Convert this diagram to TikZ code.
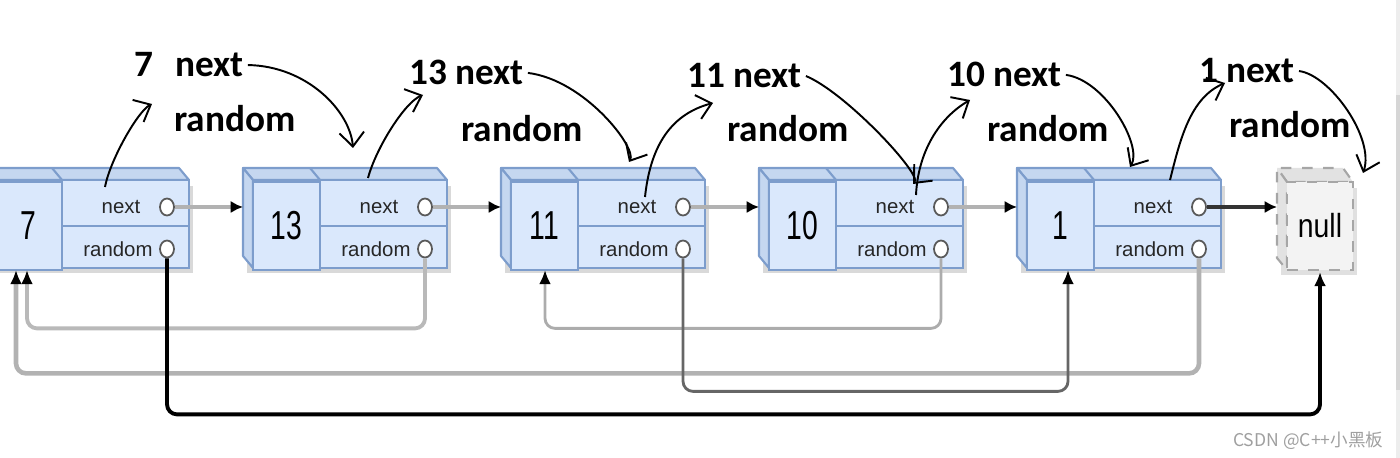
\documentclass[tikz,border=0pt]{standalone}
\usepackage{fontspec}
\setmainfont{Liberation Sans}
\newfontfamily\notefont{Carlito}
\newfontfamily\cjkfont{Noto Sans CJK SC}
\usetikzlibrary{shapes.geometric,arrows.meta}
\definecolor{boxfront}{HTML}{DAE8FC}
\definecolor{boxside}{HTML}{C5D7F0}
\definecolor{boxline}{HTML}{7D9DCC}
\definecolor{nullfill}{HTML}{F3F3F3}
\newcommand{\valtext}[1]{\scalebox{0.7}[1]{\fontsize{11.5}{12}\selectfont #1}}

\begin{document}
\begin{tikzpicture}[x=0.01cm, y=-0.01cm,
    cell/.style={draw=boxline, fill=boxfront, line width=0.8pt, inner sep=0pt},
    face/.style={draw=boxline, fill=boxside, line width=0.6pt, line join=round},
    port/.style={ellipse, draw=gray!70!black, fill=white, line width=0.5pt, minimum width=0.14cm, minimum height=0.17cm, inner sep=0pt},
    field/.style={font=\fontsize{5.8}{6}\selectfont, text=black!85, inner sep=0pt},
    nextptr/.style={draw=gray!60, line width=1pt, -{Latex[color=black, length=3.5pt, width=3.5pt]}},
    rnd/.style={rounded corners=0.1cm, line width=0.8pt, -{Latex[color=black, length=4pt, width=3.4pt]}},
    note/.style={font=\notefont\bfseries\fontsize{10.6}{12}\selectfont, anchor=base west, inner sep=1pt},
    hand/.style={line width=0.55pt, -{Straight Barb[length=4pt, width=7pt]}}]
    \useasboundingbox (0,0) rectangle (1400,458);
    \clip (0,0) rectangle (1400,458);
    % scrollbar at the right edge
    \fill[black!7] (1396,0) rectangle (1400,458);
    \fill[black!16] (1396,95) rectangle (1400,390);
    % list nodes
    \foreach \i/\v in {1/7,2/13,3/11,4/10,5/1} {
        \pgfmathsetmacro\X{-5+258*(\i-1)}
        \fill[black!15] (\X-6,186) rectangle (\X+198,273);
        \filldraw[face] (\X,180) -- (\X-10,168) -- (\X+184,168) -- (\X+194,180) -- cycle;
        \draw[face] (\X+67,180) -- (\X+57,168);
        \filldraw[face] (\X,180) -- (\X-10,168) -- (\X-10,256) -- (\X,268) -- cycle;
        \node[cell, minimum width=0.67cm, minimum height=0.88cm] (v\i) at (\X+33.5,226) {\valtext{\v}};
        \node[cell, minimum width=1.27cm, minimum height=0.46cm] (n\i) at (\X+130.5,203) {};
        \node[cell, minimum width=1.27cm, minimum height=0.42cm] (r\i) at (\X+130.5,247) {};
        \node[field] (tn\i) at (\X+126,207) {next};
        \node[field] (tr\i) at (\X+123,249) {random};
        \node[port] (pn\i) at (\X+172,207) {};
        \node[port] (pr\i) at (\X+172,249) {};
        \coordinate (in\i) at (\X-10,207);
    }
    % null
    \fill[black!12] (1281,188) rectangle (1357,275);
    \filldraw[draw=gray!70, fill=nullfill!85!gray, dashed, line width=0.6pt] (1287,182) -- (1277,168) -- (1343,168) -- (1353,182) -- cycle;
    \filldraw[draw=gray!70, fill=nullfill!85!gray, dashed, line width=0.6pt] (1287,182) -- (1277,168) -- (1277,258) -- (1287,270) -- cycle;
    \node[draw=gray!70, fill=nullfill, dashed, line width=0.6pt, minimum width=0.66cm, minimum height=0.88cm, inner sep=0pt] (nul) at (1320,226) {\scalebox{0.85}[1]{\fontsize{9.5}{10}\selectfont null}};
    \coordinate (in6) at (1277,207);
    % next pointers
    \foreach \i/\j in {1/2,2/3,3/4,4/5} {\draw[nextptr] (pn\i) -- (in\j);}
    \draw[nextptr, draw=black!80, line width=0.9pt] (pn5) -- (in6);
    % random pointers
    \coordinate (b1a) at (16,270);
    \coordinate (b1b) at (27,270);
    \coordinate (b3) at (545,270);
    \coordinate (b5) at (1068,270);
    \coordinate (bn) at (1320,272);
    \draw[rnd, draw=gray!55, line width=1.1pt] (pr2.south) -- ++(0,70) -| (b1b);
    \draw[rnd, draw=gray!60, line width=1.3pt] (pr5.south) -- ++(0,115) -| (b1a);
    \draw[rnd, draw=gray!65] (pr4.south) -- ++(0,70) -| (b3);
    \draw[rnd, draw=gray!80!black] (pr3.south) -- ++(0,133) -| (b5);
    \draw[rnd, draw=black, line width=1.1pt] (pr1.south) -- ++(0,156) -| (bn);
    % notes
    \node[note] (tx1) at (130,77) {7\hspace{0.6em}next};
    \node[note] (tx2) at (405,85) {13 next};
    \node[note] (tx3) at (683,88) {11 next};
    \node[note] (tx4) at (943,87) {10 next};
    \node[note] (tx5) at (1195,83) {1 next};
    \node[note] (ty1) at (170,132) {random};
    \node[note] (ty2) at (457,142) {random};
    \node[note] (ty3) at (723,142) {random};
    \node[note] (ty4) at (983,142) {random};
    \node[note] (ty5) at (1225,138) {random};
    % hand drawn arrows
    \draw[hand] (tx1.east) .. controls (307,66) and (350,111) .. (353,148);
    \draw[hand] (tx2.east) .. controls (585,80) and (637,148) .. (629,162);
    \draw[hand] (tx3.east) .. controls (845,92) and (922,174) .. (913,184);
    \draw[hand] (tx4.east) .. controls (1105,80) and (1143,146) .. (1130,167);
    \draw[hand] (tx5.east) .. controls (1330,75) and (1375,138) .. (1363,173);
    \draw[hand] (105,187) .. controls (110,160) and (138,111) .. (152,104);
    \draw[hand] (368,178) .. controls (376,148) and (405,102) .. (423,95);
    \draw[hand] (645,197) .. controls (650,150) and (668,115) .. (713,103);
    \draw[hand] (916,195) .. controls (918,152) and (939,118) .. (970,100);
    \draw[hand] (1170,180) .. controls (1180,140) and (1190,98) .. (1225,83);
    % watermark
    \node[font=\cjkfont\fontsize{5}{6}\selectfont, text=gray!75, anchor=east, inner sep=0pt] (wm) at (1384,441) {CSDN @C++小黑板};
\end{tikzpicture}
\end{document}
